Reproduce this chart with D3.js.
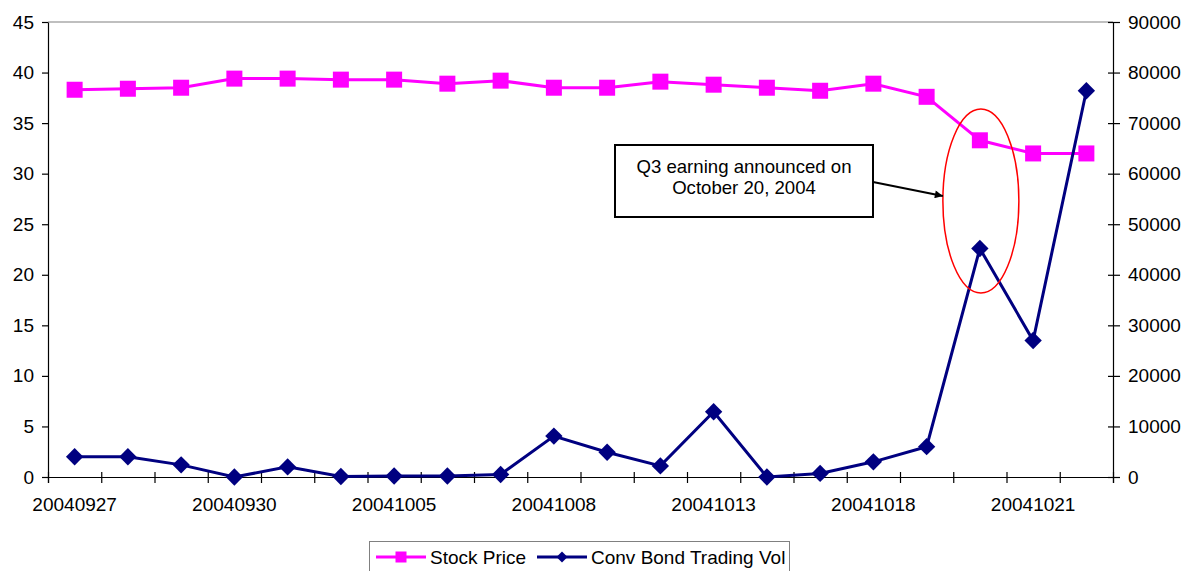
<!DOCTYPE html>
<html>
<head>
<meta charset="utf-8">
<script src="https://cdn.jsdelivr.net/npm/d3@7"></script>
<style>
  html, body { margin: 0; padding: 0; background: #fff; }
  svg { display: block; font-family: "Liberation Sans", Arial, sans-serif; }
</style>
</head>
<body>
<svg id="chart" width="1183" height="571"></svg>
<script>
// Trading dates (yyyymmdd)
const dates = ["20040927","20040928","20040929","20040930","20041001","20041004","20041005",
  "20041006","20041007","20041008","20041011","20041012","20041013","20041014","20041015",
  "20041018","20041019","20041020","20041021","20041022"];
// Closing stock price (left axis)
const stockPrice = [38.3, 38.4, 38.5, 39.4, 39.4, 39.3, 39.3, 38.9, 39.2, 38.5, 38.5, 39.1,
  38.8, 38.5, 38.2, 38.9, 37.6, 33.3, 32.0, 32.0];
// Convertible bond trading volume (right axis)
const bondVolume = [4000, 4000, 2400, 0, 2000, 100, 200, 200, 500, 8100, 4900, 2200,
  12900, 0, 700, 3000, 6000, 45200, 27000, 76400];
const leftTicks = [0, 5, 10, 15, 20, 25, 30, 35, 40, 45];
const rightTicks = [0, 10000, 20000, 30000, 40000, 50000, 60000, 70000, 80000, 90000];
const labeledDates = ["20040927","20040930","20041005","20041008","20041013","20041018","20041021"];
const seriesNames = ["Stock Price", "Conv Bond Trading Vol"];
const noteLines = ["Q3 earning announced on", "October 20, 2004"];
const eventDate = "20041020";

const svg = d3.select("#chart");
const plotL = 48, plotR = 1113, plotT = 22, plotB = 477;
const FONT = "19px";
const FAMILY = "Liberation Sans, Arial, sans-serif";
const PINK = "#ff00ff", NAVY = "#000080";

const x = d3.scaleBand().domain(dates).range([plotL, plotR]).padding(0);
const cx = d => x(d) + x.bandwidth() / 2;
const xIdx = d3.scaleLinear().domain([0, dates.length]).range([plotL, plotR]);
const yL = d3.scaleLinear().domain([0, 45]).range([plotB, plotT]);
const yR = d3.scaleLinear().domain([0, 90000]).range([plotB, plotT]);

// top frame line
svg.append("line").attr("x1", plotL).attr("x2", plotR).attr("y1", plotT).attr("y2", plotT)
  .attr("stroke", "#808080").attr("stroke-width", 1.2);

// left axis
const gL = svg.append("g").attr("transform", `translate(${plotL},0)`)
  .call(d3.axisLeft(yL).tickValues(leftTicks).tickSize(6).tickPadding(8).tickSizeOuter(0));
gL.selectAll("text").attr("font-size", FONT).attr("font-family", FAMILY).attr("fill", "#000");
gL.selectAll("line, path").attr("stroke", "#000").attr("stroke-width", 1.2);

// right axis
const gR = svg.append("g").attr("transform", `translate(${plotR},0)`)
  .call(d3.axisRight(yR).tickValues(rightTicks).tickFormat(d3.format("d"))
    .tickSize(7).tickPadding(8).tickSizeOuter(0));
gR.selectAll(".tick line").attr("x1", -5);
gR.selectAll("text").attr("font-size", FONT).attr("font-family", FAMILY).attr("fill", "#000");
gR.selectAll("line, path").attr("stroke", "#000").attr("stroke-width", 1.2);

// bottom axis: ticks on category boundaries
const gB = svg.append("g").attr("transform", `translate(0,${plotB})`)
  .call(d3.axisBottom(xIdx).tickValues(d3.range(dates.length + 1)).tickSize(6).tickFormat(""));
gB.selectAll(".tick line").attr("y1", -5);
gB.selectAll("line, path").attr("stroke", "#000").attr("stroke-width", 1.2);

// bottom category labels
const gBL = svg.append("g").attr("transform", `translate(0,${plotB})`)
  .call(d3.axisBottom(x).tickValues(labeledDates).tickSize(0).tickPadding(20.5));
gBL.select(".domain").remove();
gBL.selectAll("text").attr("font-size", FONT).attr("font-family", FAMILY).attr("fill", "#000");

// stock price series
svg.append("path").datum(stockPrice)
  .attr("d", d3.line().x((d, i) => cx(dates[i])).y(d => yL(d)))
  .attr("fill", "none").attr("stroke", PINK).attr("stroke-width", 3);
svg.append("g").selectAll("rect").data(stockPrice).join("rect")
  .attr("x", (d, i) => cx(dates[i]) - 8).attr("y", d => yL(d) - 8)
  .attr("width", 16).attr("height", 16).attr("fill", PINK);

// bond volume series
svg.append("path").datum(bondVolume)
  .attr("d", d3.line().x((d, i) => cx(dates[i])).y(d => yR(d)))
  .attr("fill", "none").attr("stroke", NAVY).attr("stroke-width", 3);
const diamond = d3.symbol().type(d3.symbolSquare).size(150);
svg.append("g").selectAll("path").data(bondVolume).join("path")
  .attr("d", diamond)
  .attr("transform", (d, i) => `translate(${cx(dates[i])},${yR(d)}) rotate(45)`)
  .attr("fill", NAVY);

// annotation: ellipse around event date, note box and arrow
const ex = cx(eventDate) + 1;
svg.append("ellipse").attr("cx", ex).attr("cy", 201).attr("rx", 38).attr("ry", 92)
  .attr("fill", "none").attr("stroke", "#ff0000").attr("stroke-width", 1.5);

svg.append("defs").append("marker").attr("id", "arrow")
  .attr("viewBox", "0 0 10 10").attr("refX", 10).attr("refY", 5)
  .attr("markerWidth", 11).attr("markerHeight", 8).attr("markerUnits", "userSpaceOnUse")
  .attr("orient", "auto")
  .append("path").attr("d", "M0,0 L10,5 L0,10 Z").attr("fill", "#000");

svg.append("rect").attr("x", 615).attr("y", 145).attr("width", 258).attr("height", 72)
  .attr("fill", "#fff").attr("stroke", "#000").attr("stroke-width", 2);
svg.append("g").selectAll("text").data(noteLines).join("text")
  .attr("x", 744).attr("y", (d, i) => 173 + i * 21)
  .attr("text-anchor", "middle").attr("font-size", "18.6px").attr("fill", "#000")
  .text(d => d);
svg.append("line").attr("x1", 873).attr("y1", 182).attr("x2", ex - 38).attr("y2", 196)
  .attr("stroke", "#000").attr("stroke-width", 2).attr("marker-end", "url(#arrow)");

// legend
const lg = svg.append("g");
lg.append("rect").attr("x", 369.5).attr("y", 541.5).attr("width", 420).attr("height", 40)
  .attr("fill", "#fff").attr("stroke", "#808080").attr("stroke-width", 1);
const legendItems = [
  { name: seriesNames[0], color: PINK, x0: 376, x1: 426, tx: 430, shape: "square" },
  { name: seriesNames[1], color: NAVY, x0: 537, x1: 587, tx: 591, shape: "diamond" }
];
const ly = 557;
legendItems.forEach(it => {
  lg.append("line").attr("x1", it.x0).attr("x2", it.x1).attr("y1", ly).attr("y2", ly)
    .attr("stroke", it.color).attr("stroke-width", 3);
  const mx = (it.x0 + it.x1) / 2;
  if (it.shape === "square") {
    lg.append("rect").attr("x", mx - 5.5).attr("y", ly - 5.5).attr("width", 11).attr("height", 11).attr("fill", it.color);
  } else {
    lg.append("path").attr("d", d3.symbol().type(d3.symbolSquare).size(60))
      .attr("transform", `translate(${mx},${ly}) rotate(45)`).attr("fill", it.color);
  }
  lg.append("text").attr("x", it.tx).attr("y", ly + 6.5).attr("font-size", FONT).attr("fill", "#000").text(it.name);
});
</script>
</body>
</html>
